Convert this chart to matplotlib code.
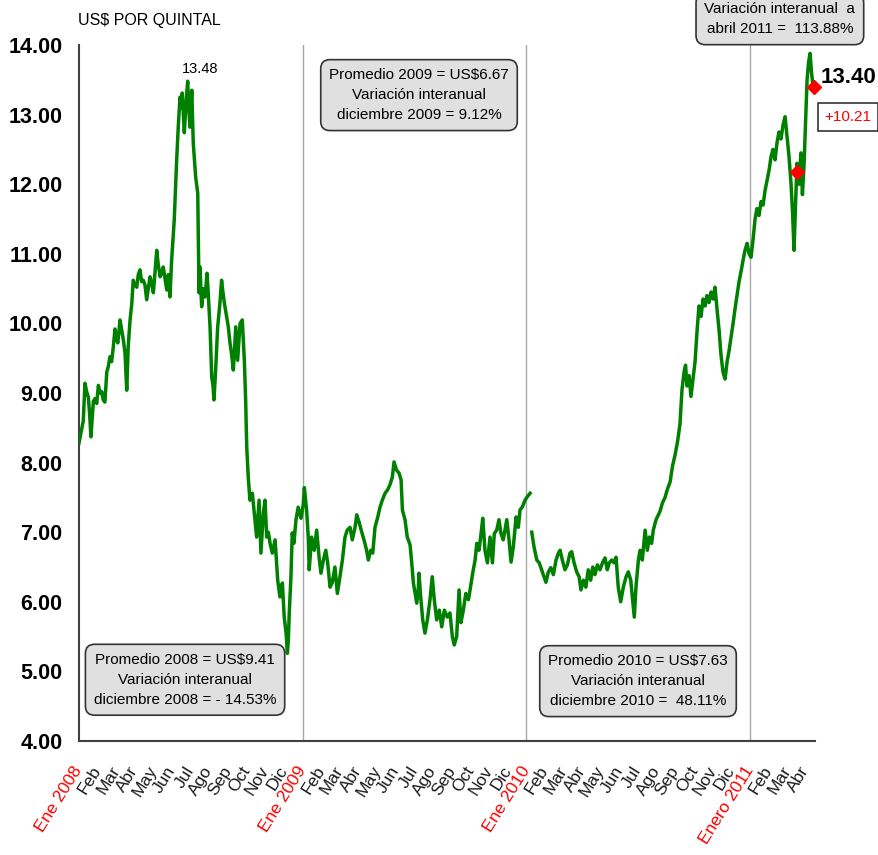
import matplotlib
matplotlib.use('Agg')
import matplotlib.pyplot as plt
import numpy as np

# ---------------- DATA ----------------
# time in months since Jan 2008 (0 = Ene 2008), price US$ per quintal
meses_a = [0.00, 0.14, 0.23, 0.32, 0.41, 0.50, 0.57, 0.64, 0.77, 0.86, 0.95, 1.04, 1.13, 1.22, 1.30, 1.39,
           1.49, 1.57, 1.66, 1.75, 1.84, 1.93, 2.00, 2.08, 2.15, 2.20, 2.29, 2.38, 2.47, 2.56, 2.64, 2.74,
           2.83, 2.91, 3.00, 3.10, 3.18, 3.27, 3.36, 3.45, 3.54, 3.63, 3.72, 3.81, 3.90, 3.99, 4.08, 4.17,
           4.25, 4.35, 4.44, 4.52, 4.61, 4.71, 4.79, 4.88, 4.97, 5.04, 5.11, 5.18, 5.24, 5.33, 5.42, 5.47,
           5.54, 5.65, 5.74, 5.83, 5.90, 5.95, 6.05, 6.13, 6.26, 6.37, 6.44, 6.49, 6.58, 6.67, 6.76, 6.87,
           6.94, 7.03, 7.12, 7.19, 7.24, 7.33, 7.44, 7.56, 7.65, 7.72, 7.80, 7.92, 8.01, 8.10, 8.19, 8.28,
           8.41, 8.51, 8.64, 8.76, 8.87, 8.94, 9.00, 9.08, 9.17, 9.30, 9.40, 9.53, 9.66, 9.76, 9.89, 9.98,
           10.07, 10.16, 10.25, 10.37, 10.52, 10.66, 10.78, 10.91, 11.01, 11.11, 11.18, 11.23, 11.28, 11.37,
           11.44, 11.53, 11.64, 11.76, 11.91, 12.03, 12.09, 12.21, 12.30, 12.35, 12.48, 12.62, 12.75, 12.88,
           12.98, 13.11, 13.24, 13.34, 13.47, 13.59, 13.73, 13.86, 14.00, 14.13, 14.27, 14.39, 14.54, 14.66,
           14.81, 14.90, 15.02, 15.17, 15.29, 15.43, 15.52, 15.65, 15.76, 15.88, 16.03, 16.15, 16.27, 16.42,
           16.56, 16.68, 16.81, 16.90, 17.04, 17.17, 17.28, 17.35, 17.49, 17.61, 17.76, 17.85, 17.94, 18.03,
           18.12, 18.20, 18.24, 18.33, 18.44, 18.56, 18.69, 18.83, 18.95, 19.06, 19.19, 19.33, 19.46, 19.60,
           19.76, 19.90, 20.03, 20.13, 20.26, 20.39, 20.49, 20.62, 20.75, 20.89, 20.98, 21.12, 21.25, 21.34,
           21.46, 21.57, 21.66, 21.78, 21.91, 22.05, 22.18, 22.28, 22.41, 22.53, 22.64, 22.76, 22.95, 23.07,
           23.18, 23.30, 23.45, 23.57, 23.66, 23.78, 23.93, 24.05, 24.20]
precio_a = [8.28, 8.47, 8.60, 9.14, 9.02, 8.94, 8.70, 8.37, 8.88, 8.92, 8.85, 9.11, 9.00, 9.02, 8.90, 8.87,
            9.30, 9.38, 9.52, 9.45, 9.66, 9.92, 9.80, 9.72, 9.90, 10.05, 9.90, 9.76, 9.57, 9.04, 9.67, 10.05,
            10.28, 10.62, 10.55, 10.52, 10.70, 10.77, 10.60, 10.62, 10.55, 10.34, 10.50, 10.67, 10.58, 10.44, 10.75, 11.05,
            10.85, 10.67, 10.72, 10.81, 10.65, 10.48, 10.70, 10.38, 10.91, 11.20, 11.49, 11.95, 12.35, 12.85, 13.25, 13.10,
            13.31, 12.74, 13.17, 13.48, 13.05, 12.82, 13.35, 12.59, 12.10, 11.87, 10.44, 10.81, 10.24, 10.50, 10.38, 10.72,
            10.40, 9.95, 9.23, 9.10, 8.90, 9.33, 9.95, 10.29, 10.62, 10.45, 10.29, 10.09, 9.95, 9.72, 9.55, 9.33,
            9.95, 9.47, 10.00, 10.05, 9.47, 8.90, 8.22, 7.79, 7.46, 7.56, 7.28, 6.93, 7.46, 6.70, 7.28, 7.46,
            6.93, 7.00, 6.84, 6.70, 6.89, 6.31, 6.07, 6.27, 5.78, 5.55, 5.26, 5.45, 5.84, 6.36,
            6.99, 6.84, 7.18, 7.36, 7.20, 7.40, 7.64, 7.32, 6.93, 6.46, 6.93, 6.74, 7.03, 6.64,
            6.41, 6.60, 6.74, 6.56, 6.21, 6.28, 6.50, 6.12, 6.36, 6.60, 6.93, 7.03, 7.07, 6.89,
            7.07, 7.25, 7.15, 7.00, 6.89, 6.74, 6.60, 6.74, 6.70, 7.07, 7.22, 7.36, 7.46, 7.56,
            7.61, 7.68, 7.79, 8.01, 7.89, 7.85, 7.75, 7.32, 7.18, 6.93, 6.82, 6.56, 6.27, 6.12,
            5.98, 6.17, 6.41, 6.07, 5.74, 5.55, 5.74, 6.03, 6.36, 6.03, 5.74, 5.88, 5.64, 5.88,
            5.78, 5.84, 5.50, 5.38, 5.50, 6.17, 5.70, 5.88, 6.12, 6.03, 6.17, 6.41, 6.60, 6.84,
            6.74, 6.98, 7.20, 6.74, 6.56, 6.93, 6.56, 6.98, 7.03, 7.18, 6.98, 6.89, 7.18, 6.89,
            6.57, 6.79, 7.22, 7.07, 7.32, 7.36, 7.46, 7.51, 7.56]

meses_b = [24.29, 24.41, 24.56, 24.69, 24.82, 24.95, 25.05, 25.18, 25.31, 25.45, 25.59, 25.72, 25.81, 25.93,
           26.07, 26.20, 26.34, 26.43, 26.56, 26.70, 26.83, 26.93, 27.06, 27.19, 27.32, 27.45, 27.56, 27.68,
           27.81, 27.95, 28.10, 28.22, 28.34, 28.45, 28.58, 28.70, 28.81, 28.93, 29.06, 29.20, 29.35, 29.47,
           29.60, 29.70, 29.79, 29.88, 30.01, 30.10, 30.22, 30.37, 30.49, 30.60, 30.72, 30.81, 30.96, 31.08,
           31.17, 31.30, 31.44, 31.57, 31.71, 31.84, 31.97, 32.11, 32.24, 32.35, 32.46, 32.54, 32.62, 32.73,
           32.83, 32.94, 33.05, 33.16, 33.26, 33.37, 33.48, 33.59, 33.69, 33.80, 33.91, 34.02, 34.12, 34.23,
           34.34, 34.44, 34.55, 34.66, 34.77, 34.87, 34.98, 35.09, 35.19, 35.30, 35.41, 35.52, 35.62, 35.73,
           35.84, 35.95, 36.05, 36.16, 36.27, 36.37, 36.48, 36.59, 36.70, 36.80, 36.91, 37.02, 37.13, 37.23,
           37.34, 37.45, 37.55, 37.66, 37.77, 37.88, 37.98, 38.09, 38.20, 38.28, 38.36, 38.44, 38.52, 38.63,
           38.73, 38.81, 38.90, 38.98, 39.06, 39.14, 39.22, 39.30, 39.38]
precio_b = [7.00, 6.79, 6.60, 6.56, 6.46, 6.36, 6.28, 6.43, 6.49, 6.39, 6.60, 6.70, 6.74, 6.60,
            6.46, 6.53, 6.70, 6.72, 6.56, 6.43, 6.36, 6.17, 6.31, 6.21, 6.46, 6.31, 6.50, 6.39,
            6.53, 6.46, 6.57, 6.63, 6.46, 6.56, 6.60, 6.56, 6.64, 6.21, 6.00, 6.21, 6.36, 6.43,
            6.31, 6.03, 5.78, 6.21, 6.60, 6.74, 6.60, 7.03, 6.74, 6.93, 6.84, 7.03, 7.18, 7.25,
            7.30, 7.42, 7.50, 7.62, 7.72, 7.95, 8.10, 8.30, 8.55, 9.05, 9.30, 9.40, 9.10, 9.25,
            8.95, 9.20, 9.45, 9.90, 10.25, 10.10, 10.35, 10.25, 10.40, 10.30, 10.45, 10.35, 10.52, 10.20,
            9.90, 9.55, 9.30, 9.20, 9.45, 9.60, 9.80, 10.00, 10.20, 10.40, 10.60, 10.75, 10.90, 11.05,
            11.15, 11.00, 10.95, 11.20, 11.50, 11.65, 11.55, 11.75, 11.70, 11.90, 12.05, 12.20, 12.40, 12.50,
            12.35, 12.60, 12.75, 12.65, 12.85, 12.97, 12.70, 12.40, 12.00, 11.60, 11.05, 11.70, 12.30, 12.00,
            12.45, 11.85, 12.30, 12.90, 13.50, 13.75, 13.88, 13.60, 13.40]

marcas_meses = [38.52, 39.43]
marcas_precio = [12.18, 13.40]

pico_mes = 5.83
pico_valor = 13.48
ultimo_valor = 13.40
cambio_texto = '+10.21'

y_ticks = [4, 5, 6, 7, 8, 9, 10, 11, 12, 13, 14]
meses_nombres = ['Ene', 'Feb', 'Mar', 'Abr', 'May', 'Jun', 'Jul', 'Ago', 'Sep', 'Oct', 'Nov', 'Dic']
x_labels = (['Ene 2008'] + meses_nombres[1:] + ['Ene 2009'] + meses_nombres[1:] +
            ['Ene 2010'] + meses_nombres[1:] + ['Enero 2011', 'Feb', 'Mar', 'Abr'])
year_label_idx = [0, 12, 24, 36]

box_2008 = 'Promedio 2008 = US$9.41\nVariación interanual\ndiciembre 2008 = - 14.53%'
box_2009 = 'Promedio 2009 = US$6.67\nVariación interanual\ndiciembre 2009 = 9.12%'
box_2010 = 'Promedio 2010 = US$7.63\nVariación interanual\ndiciembre 2010 =  48.11%'
box_2011 = 'Variación interanual  a\nabril 2011 =  113.88%'

# ---------------- FONTS ----------------
plt.rcParams['font.family'] = ['Liberation Sans', 'DejaVu Sans']

# ---------------- FIGURE ----------------
W, H = 879, 855
fig = plt.figure(figsize=(W / 100, H / 100), dpi=100)
ax = fig.add_axes([79 / W, 114 / H, 736 / W, 696 / H])
ax.set_xlim(0, 736 / 18.64)
ax.set_ylim(4, 14)

for m in [12, 24, 36]:
    ax.axvline(m, color='#a8a8a8', lw=1.0, zorder=1)

green = '#008000'
ax.plot(meses_a, precio_a, color=green, lw=2.5, zorder=3, solid_joinstyle='round')
ax.plot(meses_b, precio_b, color=green, lw=2.5, zorder=3, solid_joinstyle='round', clip_on=False)
ax.plot(marcas_meses, marcas_precio, 'D', color='#ff0000', ms=7, zorder=4, clip_on=False)

for s in ['top', 'right']:
    ax.spines[s].set_visible(False)
for s in ['left', 'bottom']:
    ax.spines[s].set_color('#404040')
    ax.spines[s].set_linewidth(1.5)

ax.set_yticks(y_ticks)
ax.set_yticklabels([f'{v:.2f}' for v in y_ticks], fontsize=15.5, fontweight='bold')
ax.tick_params(axis='y', length=0, pad=12)

ax.set_xticks(range(len(x_labels)))
ax.set_xticklabels(x_labels, fontsize=12.5, rotation=58, ha='right', va='center',
                   rotation_mode='anchor')
ax.tick_params(axis='x', length=0, pad=19)
for i, lab in enumerate(ax.get_xticklabels()):
    lab.set_color('#ff0000' if i in year_label_idx else '#1a1a1a')

fig.text(78 / W, 1 - 21 / H, 'US$ POR QUINTAL', fontsize=11.5, va='center', ha='left')

ax.text(pico_mes + 0.66, pico_valor + 0.18, f'{pico_valor:.2f}', fontsize=10.5, ha='center', va='center')

bbox_kw = dict(boxstyle='round,pad=0.55,rounding_size=0.6', facecolor='#e0e0e0', edgecolor='#333333', lw=1.2)
for txt, xm, yv in [(box_2008, 5.69, 4.88), (box_2009, 18.24, 13.28), (box_2010, 29.99, 4.86),
                    (box_2011, 37.6, 14.37)]:
    ax.text(xm, yv, txt, fontsize=11, ha='center', va='center', multialignment='center',
            linespacing=1.55, bbox=bbox_kw, zorder=5, clip_on=False)

ax.text(41.3, 13.54, f'{ultimo_valor:.2f}', fontsize=16, fontweight='bold', ha='center', va='center',
        clip_on=False)
ax.text(41.25, 12.97, cambio_texto, fontsize=11, color='#ff0000', ha='center', va='center',
        bbox=dict(boxstyle='square,pad=0.45', facecolor='white', edgecolor='#333333', lw=1.2), clip_on=False)

fig.savefig('out.png', dpi=100)
